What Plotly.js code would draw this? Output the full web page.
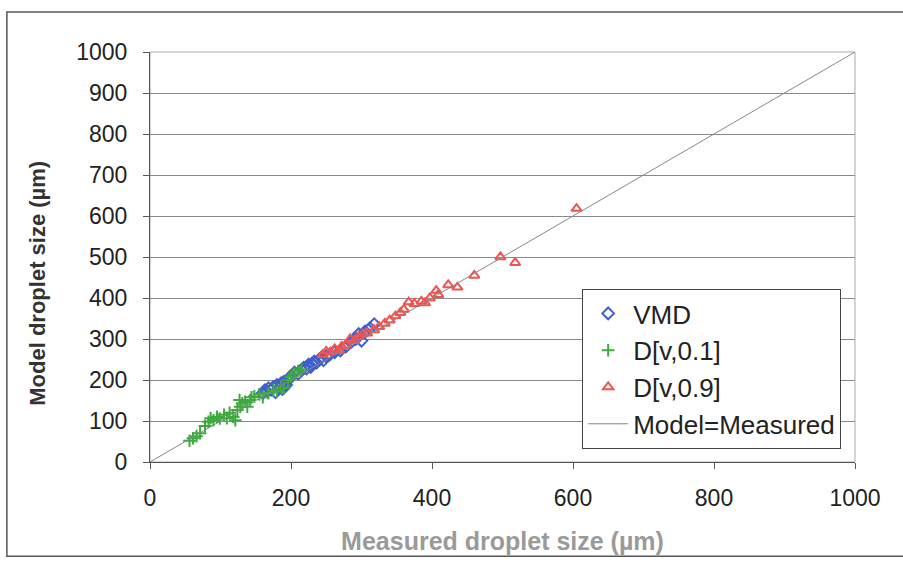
<!DOCTYPE html>
<html>
<head>
<meta charset="utf-8">
<script src="https://cdn.plot.ly/plotly-3.0.1.min.js"></script>
<style>html,body{margin:0;padding:0;background:#fff;}#chart{width:903px;height:566px;}</style>
</head>
<body>
<div id="chart"></div>
<script>
// VMD (measured, model)
const vmdMeasured = [160,163,166,168,172,175,178,180,183,186,188,190,193,196,198,200,205,210,215,218,222,225,228,230,233,236,240,243,246,250,255,262,270,278,285,292,296,300,305,312,318];
const vmdModel    = [168,175,172,180,176,183,170,188,180,192,178,196,188,200,205,210,218,215,225,230,228,238,232,240,245,242,250,255,248,258,262,268,272,282,292,300,312,296,318,326,336];
// D[v,0.1]
const d10Measured = [56,61,66,71,78,83,86,90,95,99,105,109,113,118,121,124,128,131,127,135,138,142,144,148,155,160,168,175,180,186,190,196,200,205,210,215];
const d10Model    = [52,58,63,70,88,98,107,102,110,106,115,107,120,110,102,127,135,143,151,147,135,151,158,160,165,158,168,175,172,182,180,200,208,216,222,226];
// D[v,0.9]
const d90Measured = [245,250,256,262,268,272,278,284,290,296,302,308,318,325,333,340,348,355,360,367,375,385,390,397,406,409,423,436,460,497,518,605];
const d90Model    = [262,270,268,276,272,282,285,300,296,306,312,314,322,330,338,346,356,364,372,390,386,392,388,400,418,408,432,426,455,500,486,618];
// 1:1 line
const lineX = [0,1000];
const lineY = [0,1000];
const xTitle = 'Measured droplet size (µm)';
const yTitle = 'Model droplet size (µm)';

const traces = [
  {x: vmdMeasured, y: vmdModel, name: 'VMD', type: 'scatter', mode: 'markers',
   marker: {symbol: 'diamond-open', size: 9, color: '#3f5fcf', line: {width: 2}}},
  {x: d10Measured, y: d10Model, name: 'D[v,0.1]', type: 'scatter', mode: 'markers',
   marker: {symbol: 'cross-thin-open', size: 9, color: '#3caa3c', line: {width: 2, color: '#3caa3c'}}},
  {x: d90Measured, y: d90Model, name: 'D[v,0.9]', type: 'scatter', mode: 'markers',
   marker: {symbol: 'triangle-up-open', size: 9, color: '#ee5550', line: {width: 2}}},
  {x: lineX, y: lineY, name: 'Model=Measured', type: 'scatter', mode: 'lines',
   line: {color: '#888', width: 1}}
];

const layout = {
  width: 903, height: 566,
  margin: {l: 150, r: 48, t: 52, b: 104},
  paper_bgcolor: '#fff', plot_bgcolor: '#fff',
  font: {family: 'Liberation Sans, Arial, sans-serif', color: '#222', size: 20},
  showlegend: true,
  legend: {x: 0.613, y: 0.422, xanchor: 'left', yanchor: 'top',
           bgcolor: '#fff', bordercolor: '#444', borderwidth: 1,
           font: {size: 26, color: '#222'}, itemwidth: 40},
  xaxis: {range: [0, 1000], tickvals: [0,200,400,600,800,1000], showgrid: false, zeroline: false,
          showline: true, linecolor: '#555', linewidth: 1, ticks: 'outside', ticklen: 6, tickcolor: '#555',
          tickfont: {size: 23}, ticklabelstandoff: 9,
          title: {text: '<b>' + xTitle + '</b>', standoff: 22,
                  font: {size: 25, color: '#9a9a9a'}}},
  yaxis: {range: [0, 1000], dtick: 100, showgrid: true, gridcolor: '#8a8a8a', gridwidth: 1, zeroline: false,
          showline: true, linecolor: '#555', linewidth: 1, ticks: 'outside', ticklen: 6, tickcolor: '#555',
          tickfont: {size: 23}, ticklabelstandoff: 11},
  annotations: [
    {text: '<b>' + yTitle + '</b>', xref: 'paper', yref: 'paper', x: -0.159, y: 0.437,
     xanchor: 'center', yanchor: 'middle', textangle: -90, showarrow: false,
     font: {size: 22, color: '#333'}}
  ],
  shapes: [
    {type: 'rect', xref: 'paper', yref: 'paper', x0: 0, x1: 1, y0: 0, y1: 1,
     line: {color: '#aaa', width: 1}, layer: 'below'},
    {type: 'rect', xref: 'paper', yref: 'paper', x0: -0.203, x1: 1.08, y0: -0.23, y1: 1.0976,
     line: {color: '#555', width: 1.5}}
  ]
};

Plotly.newPlot('chart', traces, layout, {displayModeBar: false, staticPlot: true});
</script>
</body>
</html>
